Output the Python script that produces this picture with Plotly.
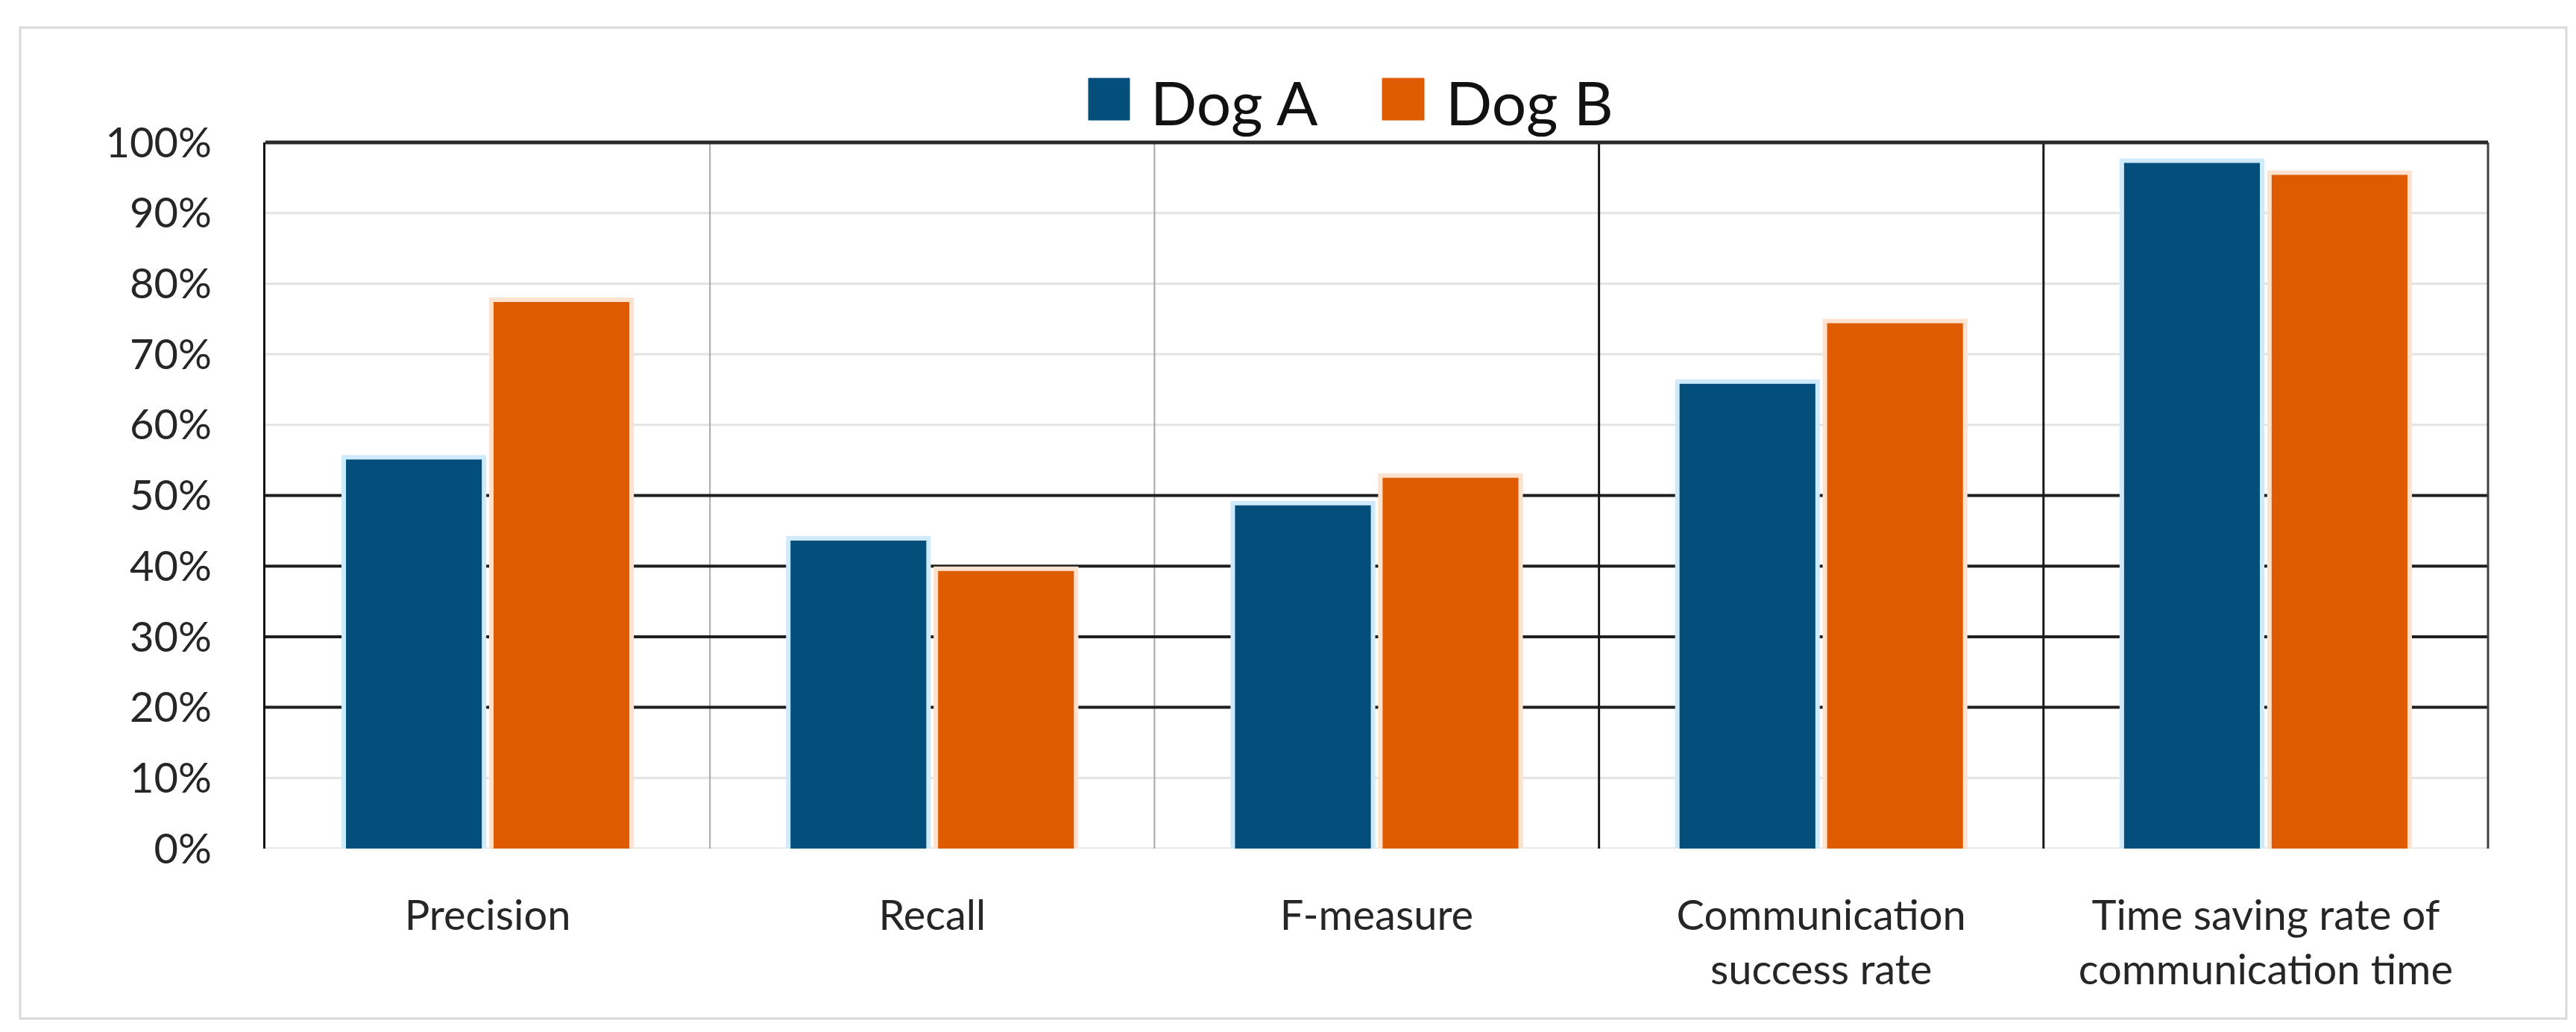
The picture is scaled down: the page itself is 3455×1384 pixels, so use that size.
import plotly.graph_objects as go

categories = ["Precision", "Recall", "F-measure",
              "Communication<br>success rate",
              "Time saving rate of<br>communication time"]
dog_a = [55.0, 43.5, 48.5, 65.7, 97.0]
dog_b = [77.3, 39.2, 52.4, 74.3, 95.3]
series_names = ["Dog A", "Dog B"]
y_ticks = [0, 10, 20, 30, 40, 50, 60, 70, 80, 90, 100]
y_tick_labels = ["0%", "10%", "20%", "30%", "40%", "50%", "60%", "70%", "80%", "90%", "100%"]
dark_grid = [20, 30, 40, 50]
light_grid = [0, 10, 60, 70, 80, 90]
light_sep = [0.5, 1.5]
dark_sep = [2.5, 3.5]

BLUE = "#034e7b"
ORANGE = "#df5b00"
BLUE_GLOW = "#cfeafb"
ORANGE_GLOW = "#fde3cf"
FONT = "Lato"

W, H = 3455, 1384
L, R, T, B = 348, 126, 183, 254
PW, PH = W - L - R, H - T - B

def px_x(p):
    return (p - L) / PW

def px_y(p):
    return (H - B - p) / PH

fig = go.Figure()
for name, vals, col, glow in [(series_names[0], dog_a, BLUE, BLUE_GLOW),
                              (series_names[1], dog_b, ORANGE, ORANGE_GLOW)]:
    fig.add_trace(go.Bar(x=categories, y=vals, offsetgroup=name,
                         marker=dict(color=glow, line=dict(color=glow, width=14)),
                         showlegend=False, hoverinfo="skip"))
    fig.add_trace(go.Bar(x=categories, y=vals, name=name, offsetgroup=name,
                         marker=dict(color=col, line=dict(color=col, width=2))))

shapes = []
# outer frame
shapes.append(dict(type="rect", xref="paper", yref="paper",
                   x0=px_x(19), x1=px_x(3434), y0=px_y(1358), y1=px_y(29),
                   line=dict(color="#d9d9d9", width=3), layer="below"))
# light horizontal grid lines
for v in light_grid:
    shapes.append(dict(type="line", xref="paper", yref="y", x0=0, x1=1, y0=v, y1=v,
                       line=dict(color="#e3e3e3", width=3), layer="below"))
# light vertical separators
for xv in light_sep:
    shapes.append(dict(type="line", xref="x", yref="paper", x0=xv, x1=xv, y0=0, y1=1,
                       line=dict(color="#a8a8a8", width=2), layer="below"))
# dark horizontal grid lines
for v in dark_grid:
    shapes.append(dict(type="line", xref="paper", yref="y", x0=0, x1=1, y0=v, y1=v,
                       line=dict(color="#1f1f1f", width=4), layer="below"))
# dark vertical separators
for xv in dark_sep:
    shapes.append(dict(type="line", xref="x", yref="paper", x0=xv, x1=xv, y0=0, y1=1,
                       line=dict(color="#1a1a1a", width=3), layer="below"))
# right border and top border (100%)
shapes.append(dict(type="line", xref="paper", yref="paper", x0=1, x1=1, y0=0, y1=1,
                   line=dict(color="#404040", width=3), layer="below"))
shapes.append(dict(type="line", xref="paper", yref="paper", x0=0, x1=1, y0=1, y1=1,
                   line=dict(color="#2a2a2a", width=5), layer="below"))

# manual legend
annotations = []
leg = [(series_names[0], BLUE, 1452, 1507, 1539), (series_names[1], ORANGE, 1846, 1902, 1935)]
for name, col, sx0, sx1, tx in leg:
    shapes.append(dict(type="rect", xref="paper", yref="paper",
                       x0=px_x(sx0), x1=px_x(sx1), y0=px_y(153), y1=px_y(97),
                       fillcolor=col, line=dict(color=col, width=1)))
    annotations.append(dict(text=name, xref="paper", yref="paper", x=px_x(tx - 6), y=px_y(128),
                            xanchor="left", yanchor="middle", showarrow=False,
                            font=dict(family=FONT, size=82, color="#111111")))

fig.update_layout(
    width=W, height=H,
    margin=dict(l=L, r=R, t=T, b=B),
    paper_bgcolor="white", plot_bgcolor="white",
    barmode="group", bargap=0.336, bargroupgap=0.09,
    showlegend=False,
    shapes=shapes, annotations=annotations,
    font=dict(family=FONT, size=56, color="#262626"),
)
fig.update_yaxes(range=[0, 100], tickmode="array", tickvals=y_ticks, ticktext=y_tick_labels,
                 showgrid=False, zeroline=False,
                 showline=True, linecolor="#111111", linewidth=3,
                 ticks="", ticklabelstandoff=58,
                 tickfont=dict(family=FONT, size=56, color="#262626"))
fig.update_xaxes(showgrid=False, showline=False, ticks="", ticklabelstandoff=52,
                 tickfont=dict(family=FONT, size=56, color="#262626"))

fig.write_html("out.html")
